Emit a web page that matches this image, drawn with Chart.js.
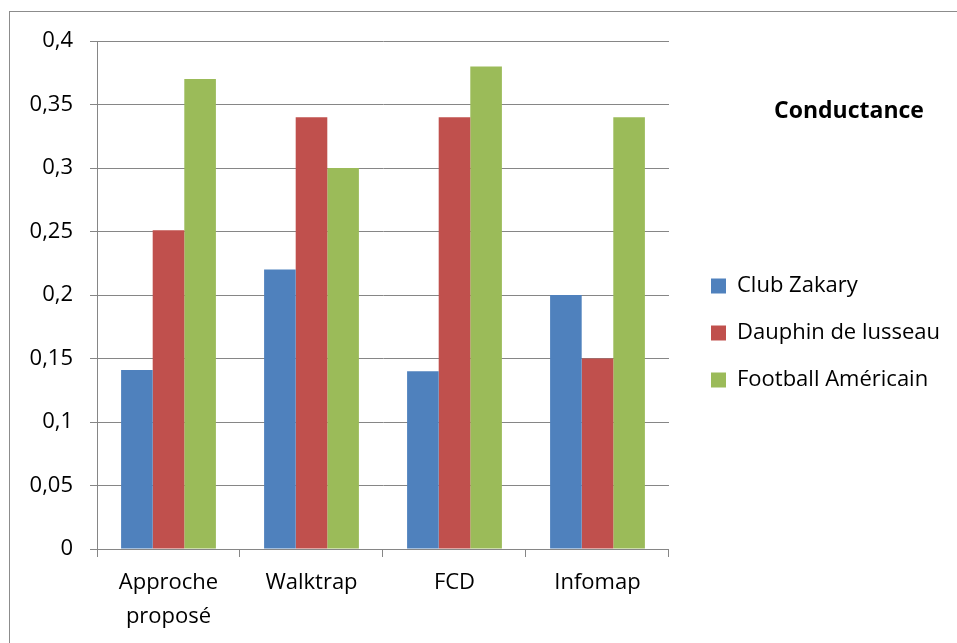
<!DOCTYPE html>
<html>
<head>
<meta charset="utf-8">
<script src="https://cdn.jsdelivr.net/npm/chart.js@4"></script>
<style>
    html, body { margin: 0; padding: 0; background: #fff; }
    #wrap { position: relative; width: 957px; height: 643px; overflow: hidden; }
    #frame {
        position: absolute; left: 9px; top: 11px; width: 1000px; height: 700px;
        border-left: 1px solid #8c8c8c; border-top: 1px solid #8c8c8c;
    }
    canvas { position: absolute; left: 0; top: 0; }
</style>
</head>
<body>
<div id="wrap">
    <div id="frame"></div>
    <canvas id="conductanceChart" width="957" height="643"></canvas>
</div>
<script>
        const methods = [['Approche', 'proposé'], 'Walktrap', 'FCD', 'Infomap'];
        const clubZakary = [0.141, 0.22, 0.14, 0.2];
        const dauphinLusseau = [0.251, 0.34, 0.34, 0.15];
        const footballAmericain = [0.37, 0.30, 0.38, 0.34];
        const yTicks = [0, 0.05, 0.1, 0.15, 0.2, 0.25, 0.3, 0.35, 0.4];
        const chartTitle = 'Conductance';

        const gridColor = '#868686';
        const fontFamily = "'Open Sans', sans-serif";
        const fontSize = 22;
        Chart.defaults.font.family = fontFamily;
        Chart.defaults.font.size = fontSize;
        Chart.defaults.color = '#000';

        const canvas = document.getElementById('conductanceChart');
        const ctx = canvas.getContext('2d');

        // legend box starts right after the plot gap; work out how much room is left on the right
        const boxSize = 15;
        const legendPad = 25;
        ctx.font = fontSize + 'px ' + fontFamily;
        const widestLabel = Math.max(...['Club Zakary', 'Dauphin de lusseau', 'Football Américain']
            .map(t => ctx.measureText(t).width));
        const legendWidth = Math.ceil(legendPad + boxSize + fontSize / 2 + widestLabel + 10);
        const rightPad = Math.max(0, 957 - 685 - legendWidth);

        // heading above the legend entries
        const legendHeading = {
            id: 'legendHeading',
            afterDraw(chart) {
                const lg = chart.legend;
                const c = chart.ctx;
                c.save();
                c.font = 'bold 23px ' + fontFamily;
                c.fillStyle = '#000';
                c.textAlign = 'center';
                c.textBaseline = 'middle';
                c.fillText(chartTitle, lg.left + 163, 111);
                c.restore();
            }
        };

        const chart = new Chart(ctx, {
            type: 'bar',
            data: {
                labels: methods,
                datasets: [
                    { label: 'Club Zakary', data: clubZakary, backgroundColor: '#4F81BD' },
                    { label: 'Dauphin de lusseau', data: dauphinLusseau, backgroundColor: '#C0504D' },
                    { label: 'Football Américain', data: footballAmericain, backgroundColor: '#9BBB59' }
                ]
            },
            plugins: [legendHeading],
            options: {
                responsive: false,
                animation: false,
                layout: { padding: { top: 41, right: rightPad, bottom: 0, left: 0 } },
                datasets: {
                    bar: { barPercentage: 1, categoryPercentage: 0.663, borderWidth: 0 }
                },
                scales: {
                    x: {
                        grid: { offset: true, drawOnChartArea: false, drawTicks: true, tickLength: 8, color: gridColor },
                        border: { color: gridColor, width: 1 },
                        ticks: { padding: 9, maxRotation: 0, font: { size: fontSize, lineHeight: 1.545 } },
                        afterFit: s => { s.height = 94; }
                    },
                    y: {
                        min: 0,
                        max: 0.4,
                        afterBuildTicks: s => { s.ticks = yTicks.map(v => ({ value: v })); },
                        grid: { color: gridColor, tickLength: 7 },
                        border: { color: gridColor, width: 1 },
                        ticks: {
                            padding: 17,
                            callback: v => String(Math.round(v * 100) / 100).replace('.', ',')
                        },
                        afterFit: s => { s.width = 97; }
                    },
                    // spacer between the plot and the legend
                    gap: {
                        type: 'linear',
                        position: 'right',
                        grid: { display: false },
                        border: { display: false },
                        ticks: { display: false },
                        afterFit: s => { s.width = 17; }
                    }
                },
                plugins: {
                    tooltip: { enabled: false },
                    legend: {
                        position: 'right',
                        align: 'start',
                        maxWidth: legendWidth,
                        // empty title only reserves the space taken by the heading
                        title: {
                            display: true,
                            text: '',
                            font: { size: 20, lineHeight: 1 },
                            padding: { top: 189, bottom: 0 }
                        },
                        labels: {
                            boxWidth: boxSize,
                            boxHeight: boxSize,
                            padding: legendPad,
                            font: { size: fontSize }
                        }
                    }
                }
            }
        });
</script>
</body>
</html>
